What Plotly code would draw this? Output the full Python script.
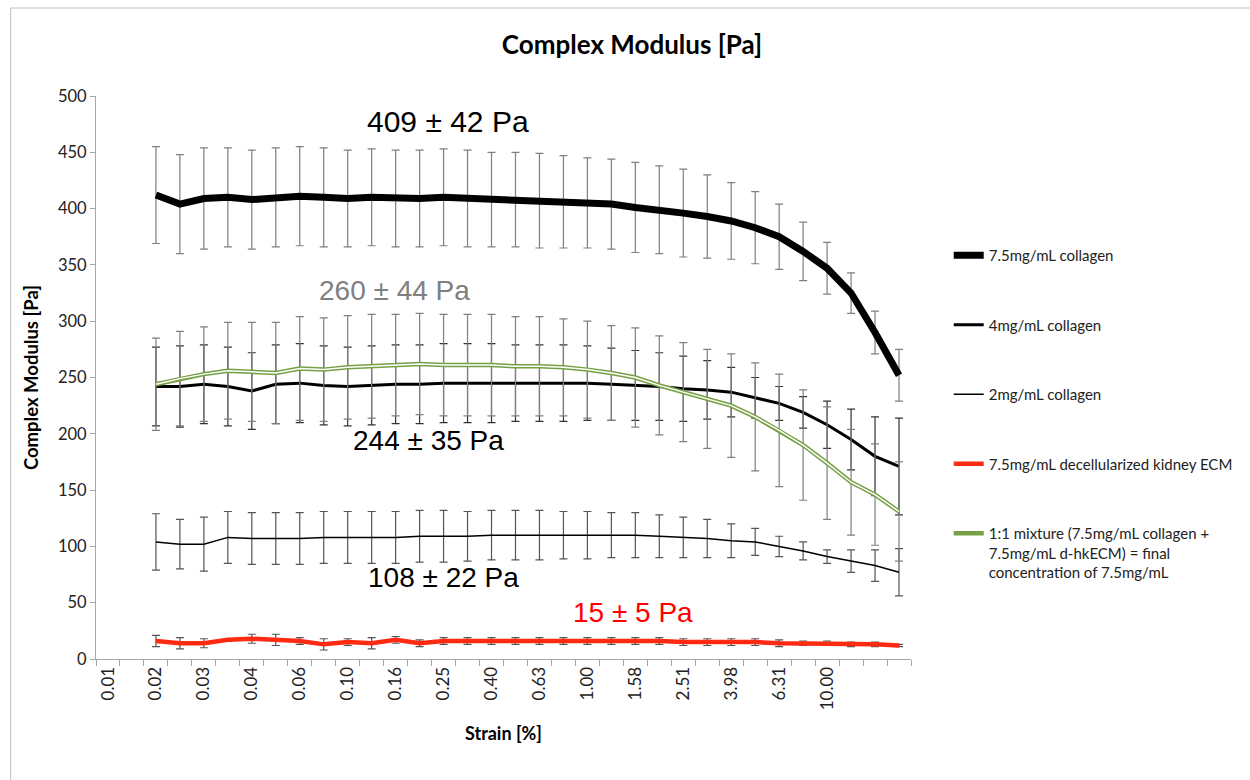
import plotly.graph_objects as go

# ---------------- data ----------------
CATEGORIES = ["0.0100", "0.0126", "0.0158", "0.0200", "0.0251", "0.0316", "0.0398", "0.0501",
              "0.0631", "0.0794", "0.1000", "0.1259", "0.1585", "0.1995", "0.2512", "0.3162",
              "0.3981", "0.5012", "0.6310", "0.7943", "1.0000", "1.2589", "1.5849", "1.9953",
              "2.5119", "3.1623", "3.9811", "5.0119", "6.3096", "7.9433", "10.0000", "12.5893",
              "15.8489", "19.9526"]
TICK_TEXT = ["0.01", "", "0.02", "", "0.03", "", "0.04", "", "0.06", "", "0.10", "", "0.16", "",
             "0.25", "", "0.40", "", "0.63", "", "1.00", "", "1.58", "", "2.51", "", "3.98", "",
             "6.31", "", "10.00", "", "", ""]
STRAIN = CATEGORIES[2:]  # measured strains

COL75 = [412, 404, 409, 410, 408, 410, 411, 410, 409, 410, 409, 409, 410, 409, 408, 408,
         407, 406, 405, 404, 401, 399, 396, 393, 389, 383, 375, 362, 347, 325, 290, 252]
COL75_SD = [43, 44, 45, 44, 44, 44, 44, 44, 43, 43, 43, 43, 43, 43, 42, 42,
            42, 41, 40, 40, 40, 39, 39, 37, 34, 32, 29, 26, 23, 18, 19, 23]

COL4 = [242, 242, 244, 242, 238, 244, 245, 243, 242, 243, 244, 244, 245, 245, 245, 245,
        245, 245, 245, 244, 243, 242, 240, 239, 237, 232, 227, 219, 208, 195, 180, 171]
COL4_SD = [35, 36, 35, 35, 34, 35, 35, 35, 35, 35, 35, 35, 35, 35, 35, 34,
           34, 34, 33, 32, 31, 30, 29, 26, 22, 18, 15, 14, 21, 27, 35, 43]

COL2 = [104, 102, 102, 108, 107, 107, 107, 108, 108, 108, 108, 109, 109, 109, 110, 110,
        110, 110, 110, 110, 110, 109, 108, 107, 105, 104, 100, 96, 91, 87, 83, 77]
COL2_SD = [25, 22, 24, 23, 23, 23, 23, 23, 23, 23, 23, 23, 23, 22, 22, 22,
           22, 21, 21, 20, 20, 19, 18, 17, 15, 12, 9, 8, 6, 10, 14, 21]

ECM = [16, 14, 14, 17, 18, 17, 16, 13, 15, 14, 17, 14, 16, 16, 16, 16,
       16, 16, 16, 16, 16, 16, 15, 15, 15, 15, 14, 14, 14, 13, 13, 12]
ECM_SD = [5, 5, 4, 1, 4, 5, 3, 5, 3, 5, 3, 3, 3, 3, 3, 3,
          3, 3, 3, 3, 3, 3, 3, 3, 3, 3, 3, 2, 2, 2, 2, 1]

MIX = [244, 249, 253, 256, 255, 254, 258, 257, 259, 260, 261, 262, 261, 261, 261, 260,
       260, 259, 257, 254, 250, 243, 237, 231, 225, 215, 203, 190, 174, 157, 146, 131]
MIX_SD = [41, 42, 42, 43, 44, 45, 46, 46, 46, 46, 45, 45, 45, 45, 45, 44,
          44, 43, 43, 42, 44, 44, 44, 44, 46, 48, 50, 49, 50, 47, 45, 44]

NAMES = ["7.5mg/mL collagen", "4mg/mL collagen", "2mg/mL collagen",
         "7.5mg/mL decellularized kidney ECM",
         "1:1 mixture (7.5mg/mL collagen +<br>7.5mg/mL d-hkECM) = final<br>concentration of 7.5mg/mL"]

LABELS = ["409 ± 42 Pa", "260 ± 44 Pa", "244 ± 35 Pa", "108 ± 22 Pa", "15 ± 5 Pa"]

# ---------------- figure ----------------
GREEN = "#76a045"
RED = "#ff2a12"
ERR_GRAY = "#7f7f7f"

fig = go.Figure()


def err(arr, color):
    return dict(type="data", array=arr, visible=True, color=color, thickness=1.2, width=4)


fig.add_trace(go.Scatter(x=STRAIN, y=COL75, name=NAMES[0], mode="lines", legendgroup="a",
                         line=dict(color="black", width=7), error_y=err(COL75_SD, ERR_GRAY)))
fig.add_trace(go.Scatter(x=STRAIN, y=COL4, name=NAMES[1], mode="lines", legendgroup="b",
                         line=dict(color="black", width=3), error_y=err(COL4_SD, "#333333")))
fig.add_trace(go.Scatter(x=STRAIN, y=COL2, name=NAMES[2], mode="lines", legendgroup="c",
                         line=dict(color="black", width=1.5), error_y=err(COL2_SD, "#555555")))
fig.add_trace(go.Scatter(x=STRAIN, y=ECM, name=NAMES[3], mode="lines", legendgroup="d",
                         line=dict(color=RED, width=4.5), error_y=err(ECM_SD, "#555555")))
fig.add_trace(go.Scatter(x=STRAIN, y=MIX, name=NAMES[4], mode="lines", legendgroup="e",
                         line=dict(color=GREEN, width=4.5), error_y=err(MIX_SD, ERR_GRAY)))
fig.add_trace(go.Scatter(x=STRAIN, y=MIX, mode="lines", showlegend=False, hoverinfo="skip",
                         line=dict(color="white", width=1.5)))

L, R, T, B = 96, 333, 96, 121
PW, PH = 1250 - L - R, 780 - T - B


def px(x):
    return (x - L) / PW


def py(y):
    return (780 - B - y) / PH


ann = []
ann_specs = [(LABELS[0], 451, 121, 30, "black"),
             (LABELS[1], 397, 290, 28, "#808080"),
             (LABELS[2], 431, 440, 28, "black"),
             (LABELS[3], 446, 577, 28, "black"),
             (LABELS[4], 637, 612, 28, "#ff0000")]
for txt, x, y, s, c in ann_specs:
    ann.append(dict(text=txt, x=px(x), y=py(y), xref="paper", yref="paper", showarrow=False,
                    xanchor="center", yanchor="middle",
                    font=dict(family="Liberation Sans, Arial", size=s, color=c)))

fig.update_layout(
    width=1250, height=780,
    margin=dict(l=L, r=R, t=T, b=B),
    paper_bgcolor="white", plot_bgcolor="white",
    font=dict(family="Lato, Calibri, sans-serif", color="#222222"),
    title=dict(text="<b>Complex Modulus [Pa]</b>", x=(632) / 1250, xanchor="center",
               y=1 - 45 / 780, yanchor="middle", yref="container", xref="container",
               font=dict(family="Lato", size=26, color="black")),
    xaxis=dict(type="category", categoryorder="array", categoryarray=CATEGORIES,
               tickvals=CATEGORIES, ticktext=TICK_TEXT, tickson="boundaries",
               range=[-0.5, len(CATEGORIES) - 0.5],
               ticks="outside", ticklen=6, tickcolor="#a6a6a6", tickangle=-90,
               tickfont=dict(family="Lato", size=17, color="#222222"),
               showline=True, linecolor="#a6a6a6", linewidth=1, showgrid=False, zeroline=False,
               title=dict(text="<b>Strain [%]</b>", standoff=18,
                          font=dict(family="Lato", size=18, color="black"))),
    yaxis=dict(range=[0, 500], dtick=50, ticks="outside", ticklen=5, tickcolor="#a6a6a6",
               tickfont=dict(family="Lato", size=16.5, color="#222222"),
               showline=True, linecolor="#a6a6a6", linewidth=1, showgrid=False, zeroline=False,
               title=dict(text="<b>Complex Modulus [Pa]</b>", standoff=14,
                          font=dict(family="Lato", size=18.5, color="black"))),
    legend=dict(x=px(955), xanchor="left", y=py(239), yanchor="top",
                tracegroupgap=47, itemwidth=30, valign="top",
                font=dict(family="Lato", size=15, color="#222222"),
                bgcolor="rgba(0,0,0,0)"),
    annotations=ann,
    shapes=[dict(type="rect", xref="paper", yref="paper", x0=px(10), x1=px(1270),
                 y0=py(800), y1=py(8), line=dict(color="#bfbfbf", width=1))],
    showlegend=True,
)

fig.write_html("out.html", config={"displayModeBar": False},
               post_script="document.body.style.margin='0';document.body.style.overflow='hidden';")
